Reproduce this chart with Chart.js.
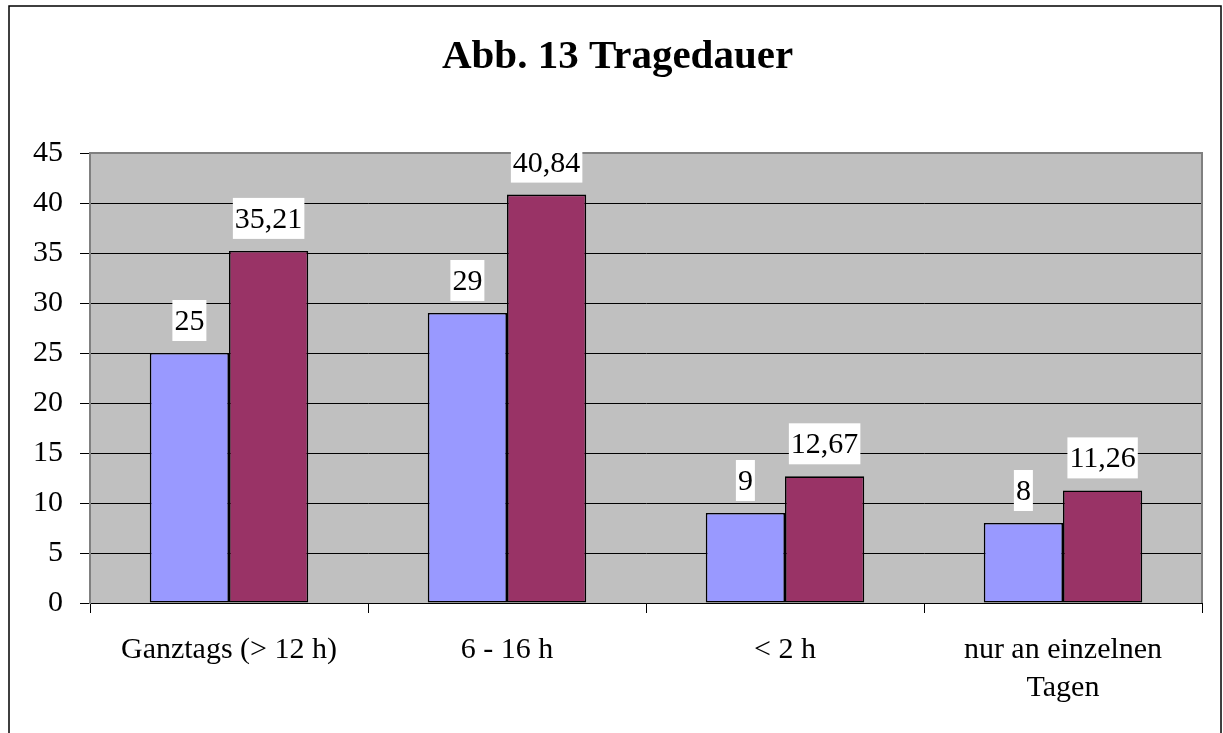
<!DOCTYPE html>
<html>
<head>
<meta charset="utf-8">
<script src="https://cdn.jsdelivr.net/npm/chart.js@4.4.0/dist/chart.umd.min.js"></script>
<style>
  html, body { margin: 0; padding: 0; background: #ffffff; }
  #c { display: block; }
</style>
</head>
<body>
<canvas id="c" width="1223" height="733"></canvas>
<script>
const titleText = 'Abb. 13 Tragedauer';
const categories = ['Ganztags (> 12 h)', '6 - 16 h', '< 2 h', ['nur an einzelnen', 'Tagen']];
const seriesA = [25, 29, 9, 8];
const seriesB = [35.21, 40.84, 12.67, 11.26];
const yMin = 0, yMax = 45, yStep = 5;

const FONT = "'Liberation Serif', 'Times New Roman', serif";

const bgPlugin = {
  id: 'bg',
  beforeDraw(chart) {
    const { ctx, chartArea: a } = chart;
    ctx.save();
    ctx.fillStyle = '#ffffff';
    ctx.fillRect(0, 0, chart.width, chart.height);
    ctx.fillStyle = '#C0C0C0';
    ctx.fillRect(a.left, a.top, a.right - a.left, a.bottom - a.top);
    ctx.restore();
  },
  afterDraw(chart) {
    const { ctx, chartArea: a } = chart;
    ctx.save();
    // plot area top/right gray border
    ctx.strokeStyle = '#808080';
    ctx.lineWidth = 2;
    ctx.beginPath();
    ctx.moveTo(a.left, a.top);
    ctx.lineTo(a.right, a.top);
    ctx.lineTo(a.right, a.bottom);
    ctx.stroke();
    // outer border
    ctx.strokeStyle = '#000000';
    ctx.lineWidth = 1.5;
    ctx.strokeRect(9, 6, 1212, 800);
    // title
    ctx.fillStyle = '#000000';
    ctx.font = 'bold 41px ' + FONT;
    ctx.textAlign = 'center';
    ctx.textBaseline = 'alphabetic';
    ctx.fillText(titleText, 617.5, 68);

    // value labels (boxes clipped to the plot area, text not)
    ctx.font = '30px ' + FONT;
    chart.data.datasets.forEach((ds, di) => {
      const meta = chart.getDatasetMeta(di);
      meta.data.forEach((bar, i) => {
        const txt = String(ds.data[i]).replace('.', ',');
        const w = ctx.measureText(txt).width + 4;
        const boxBottom = bar.y - 12;
        const boxTop = Math.max(boxBottom - 41, a.top - 1);
        ctx.fillStyle = '#ffffff';
        ctx.fillRect(bar.x - w / 2, boxTop, w, boxBottom - boxTop);
        ctx.fillStyle = '#000000';
        ctx.fillText(txt, bar.x, boxBottom - 11);
      });
    });
    ctx.restore();
  }
};

new Chart(document.getElementById('c'), {
  type: 'bar',
  data: {
    labels: categories,
    datasets: [
      { label: 'A', data: seriesA, backgroundColor: '#9999FF', borderColor: '#000000', borderWidth: 1.6, borderSkipped: false },
      { label: 'B', data: seriesB, backgroundColor: '#993366', borderColor: '#000000', borderWidth: 1.6, borderSkipped: false }
    ]
  },
  options: {
    responsive: false,
    animation: false,
    devicePixelRatio: 1,
    layout: { padding: { top: 153, right: 21, left: 0, bottom: 0 } },
    plugins: { legend: { display: false }, tooltip: { enabled: false }, title: { display: false } },
    datasets: { bar: { categoryPercentage: 0.57, barPercentage: 1.0 } },
    scales: {
      x: {
        offset: true,
        afterFit(scale) { scale.height = 130; },
        grid: { offset: true, drawOnChartArea: false, drawTicks: true, tickLength: 10, tickColor: '#000000', lineWidth: 1 },
        border: { display: true, color: '#000000', width: 1 },
        ticks: { color: '#000000', font: { family: FONT, size: 30, lineHeight: 1.27 }, padding: 18, maxRotation: 0, autoSkip: false }
      },
      y: {
        min: yMin, max: yMax,
        afterFit(scale) { scale.width = 90; },
        grid: {
          color: (c) => (c.tick && c.tick.value === yMax ? 'rgba(0,0,0,0)' : '#000000'),
          tickColor: '#000000', tickLength: 10, lineWidth: 1, drawTicks: true
        },
        border: { display: true, color: '#808080', width: 2 },
        ticks: { stepSize: yStep, color: '#000000', font: { family: FONT, size: 30 }, padding: 17 }
      }
    }
  },
  plugins: [bgPlugin]
});
</script>
</body>
</html>
